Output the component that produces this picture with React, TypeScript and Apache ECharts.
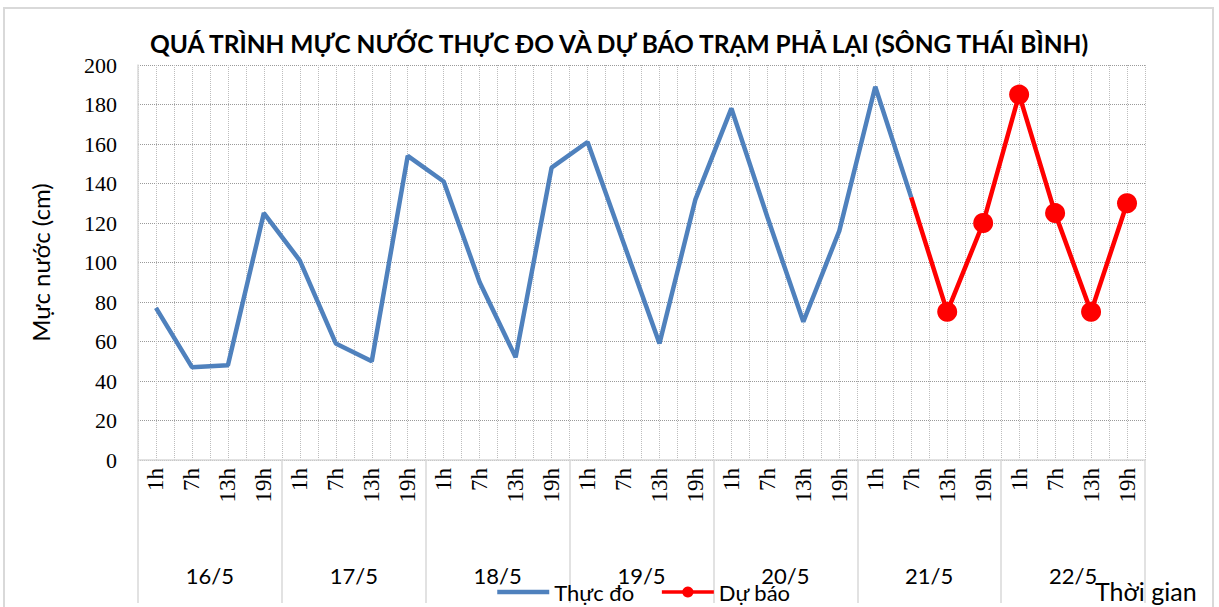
import React, { useEffect, useRef } from "react";
import * as echarts from "echarts";

const hours = ["1h", "7h", "13h", "19h"];
const dates = ["16/5", "17/5", "18/5", "19/5", "20/5", "21/5", "22/5"];
const categories = dates.flatMap((d) => hours.map((h) => `${d}|${h}`));

const observed: (number | null)[] = [
  77, 47, 48, 125,
  101, 59, 50, 154,
  141, 90, 52, 148,
  161, 110, 59, 132,
  178, 123, 70, 116,
  189, 133, null, null,
  null, null, null, null,
];

const forecast: (number | null)[] = [
  null, null, null, null,
  null, null, null, null,
  null, null, null, null,
  null, null, null, null,
  null, null, null, null,
  null, 133, 75, 120,
  185, 125, 75, 130,
];

const yTicks = { min: 0, max: 200, interval: 20 };

const titleText = "QUÁ TRÌNH MỰC NƯỚC THỰC ĐO VÀ DỰ BÁO TRẠM PHẢ LẠI (SÔNG THÁI BÌNH)";
const yName = "Mực nước (cm)";
const xName = "Thời gian";
const seriesNames = ["Thực đo", "Dự báo"];

export default function App() {
  const ref = useRef<HTMLDivElement>(null);
  useEffect(() => {
    if (!ref.current) return;
    const chart = echarts.init(ref.current, null, { renderer: "svg" });
    const forecastData = forecast.map((v, i) =>
      i === 21 ? { value: v, symbol: "none" } : v
    );
    chart.setOption({
      animation: false,
      backgroundColor: "#ffffff",
      title: {
        text: titleText,
        left: 145,
        top: 26,
        textStyle: {
          fontFamily: "Lato",
          fontWeight: "bold",
          fontSize: 24.5,
          color: "#000",
        },
      },
      legend: {
        left: 490,
        top: 576,
        itemWidth: 52,
        itemHeight: 14,
        itemGap: 26,
        textStyle: { fontFamily: "Lato", fontSize: 22, color: "#000" },
        data: [
          {
            name: seriesNames[0],
            itemStyle: { opacity: 0 },
            lineStyle: { width: 4.5 },
          },
          { name: seriesNames[1], lineStyle: { width: 3.5 } },
        ],
      },
      grid: { left: 138, right: 74, top: 65, bottom: 147 },
      xAxis: [
        {
          type: "category",
          data: categories,
          boundaryGap: true,
          axisLine: { show: true, lineStyle: { color: "#d9d9d9", width: 1.5 } },
          axisTick: { show: false },
          axisLabel: {
            rotate: 90,
            margin: 8,
            interval: 0,
            fontFamily: "Liberation Serif",
            fontSize: 23,
            color: "#000",
            formatter: (v: string) => v.split("|")[1],
          },
          splitLine: { show: false },
        },
        {
          type: "value",
          min: 0,
          max: 56,
          interval: 1,
          position: "bottom",
          axisLine: { show: false },
          axisTick: { show: false },
          axisLabel: { show: false },
          splitLine: {
            show: true,
            lineStyle: { color: "#bdbdbd", type: "dotted", width: 1 },
          },
        },
        {
          type: "category",
          data: dates,
          position: "bottom",
          boundaryGap: true,
          axisLine: { show: false },
          axisTick: {
            show: true,
            length: 143,
            lineStyle: { color: "#d9d9d9", width: 1.5 },
          },
          axisLabel: {
            margin: 104,
            fontFamily: "Lato",
            fontSize: 22,
            color: "#000",
          },
          splitLine: { show: false },
        },
      ],
      yAxis: {
        type: "value",
        min: yTicks.min,
        max: yTicks.max,
        interval: yTicks.interval,
        name: yName,
        nameLocation: "middle",
        nameRotate: 90,
        nameGap: 86,
        nameTextStyle: { fontFamily: "Lato", fontSize: 24, color: "#000" },
        axisLine: { show: true, lineStyle: { color: "#d9d9d9", width: 1.5 } },
        axisTick: { show: false },
        axisLabel: {
          margin: 21,
          fontFamily: "Liberation Serif",
          fontSize: 22,
          color: "#000",
        },
        splitLine: {
          show: true,
          lineStyle: { color: "#9a9a9a", type: "dotted", width: 1 },
        },
      },
      graphic: [
        {
          type: "rect",
          shape: { x: 4, y: 8, width: 1209, height: 610 },
          style: { fill: "none", stroke: "#d9d9d9", lineWidth: 2 },
          silent: true,
        },
        {
          type: "text",
          left: 1095,
          top: 578,
          style: {
            text: xName,
            fontFamily: "Lato",
            fontSize: 25,
            fill: "#000",
          },
        },
      ],
      series: [
        {
          name: seriesNames[0],
          type: "line",
          data: observed,
          xAxisIndex: 0,
          yAxisIndex: 0,
          symbol: "none",
          lineStyle: { color: "#4f81bd", width: 4.5 },
          itemStyle: { color: "#4f81bd" },
          connectNulls: false,
        },
        {
          name: seriesNames[1],
          type: "line",
          data: forecastData,
          xAxisIndex: 0,
          yAxisIndex: 0,
          symbol: "circle",
          symbolSize: 20,
          lineStyle: { color: "#ff0000", width: 4.5 },
          itemStyle: { color: "#ff0000" },
          z: 3,
        },
      ],
    });
    return () => chart.dispose();
  }, []);
  return (
    <div
      ref={ref}
      style={{ position: "fixed", left: 0, top: 0, width: 1219, height: 607 }}
    />
  );
}
